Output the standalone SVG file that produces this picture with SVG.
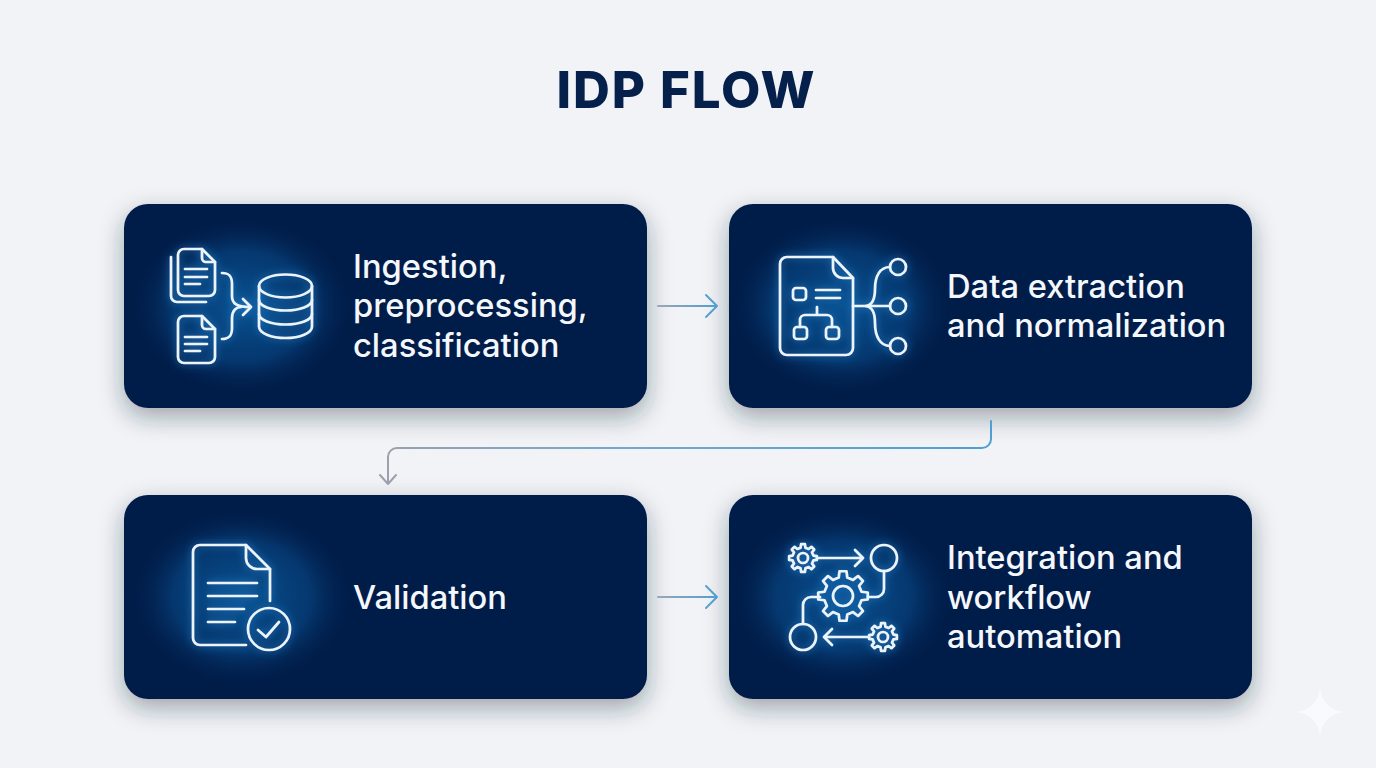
<svg xmlns="http://www.w3.org/2000/svg" width="1376" height="768" viewBox="0 0 1376 768">
<style>
.card{fill:#041f48;filter:url(#shadow)}
.ic{fill:none;stroke:#e9f4fd;stroke-width:2.7;stroke-linecap:round;stroke-linejoin:round;filter:url(#glow)}
.lbl{font-family:Inter,"Liberation Sans",sans-serif;font-weight:500;font-size:32.7px;font-optical-sizing:none;fill:#f4f7fb}
.title{font-family:Inter,"Liberation Sans",sans-serif;font-weight:800;font-size:51px;letter-spacing:1.9px;font-optical-sizing:none;fill:#05214b}
.conn{fill:none;stroke-width:2;stroke-linecap:round;stroke-linejoin:round}
</style>
<defs>
<filter id="shadow" x="-15%" y="-20%" width="130%" height="150%"><feDropShadow dx="0" dy="9" stdDeviation="12" flood-color="#1a2333" flood-opacity="0.38"/></filter>
<filter id="glow" x="-30%" y="-30%" width="160%" height="160%"><feGaussianBlur in="SourceGraphic" stdDeviation="4" result="b"/><feFlood flood-color="#2a8fe0" flood-opacity="0.8"/><feComposite in2="b" operator="in" result="c"/><feMerge><feMergeNode in="c"/><feMergeNode in="SourceGraphic"/></feMerge></filter>
<radialGradient id="halo"><stop offset="0" stop-color="#0a5596" stop-opacity="0.95"/><stop offset="0.6" stop-color="#084a88" stop-opacity="0.6"/><stop offset="1" stop-color="#041f48" stop-opacity="0"/></radialGradient>
<linearGradient id="ga" gradientUnits="userSpaceOnUse" x1="658" y1="0" x2="717" y2="0"><stop offset="0" stop-color="#9aa6b5"/><stop offset="1" stop-color="#4f9fd3"/></linearGradient>
<linearGradient id="gb" gradientUnits="userSpaceOnUse" x1="991" y1="0" x2="388" y2="0"><stop offset="0" stop-color="#4f9fd3"/><stop offset="0.55" stop-color="#6fa9cf"/><stop offset="1" stop-color="#9aa1ad"/></linearGradient>
<polygon id="gear" vector-effect="non-scaling-stroke" points="74.05,-17.1 99.03,-13.92 99.03,13.92 74.05,17.1 64.45,40.27 79.86,60.18 60.18,79.86 40.27,64.45 17.1,74.05 13.92,99.03 -13.92,99.03 -17.1,74.05 -40.27,64.45 -60.18,79.86 -79.86,60.18 -64.45,40.27 -74.05,17.1 -99.03,13.92 -99.03,-13.92 -74.05,-17.1 -64.45,-40.27 -79.86,-60.18 -60.18,-79.86 -40.27,-64.45 -17.1,-74.05 -13.92,-99.03 13.92,-99.03 17.1,-74.05 40.27,-64.45 60.18,-79.86 79.86,-60.18 64.45,-40.27"/>
</defs>
<rect width="1376" height="768" fill="#f1f3f7"/>
<text class="title" x="686.500" y="108" text-anchor="middle">IDP FLOW</text>

<g id="node-ingestion">
<rect class="card" x="124" y="204" width="523" height="204" rx="24"/>
<ellipse cx="242" cy="306" rx="115" ry="92" fill="url(#halo)"/>
<g class="ic">
<path d="M184 249H202L215 262V290a6 6 0 0 1-6 6H184a6 6 0 0 1-6-6V255a6 6 0 0 1 6-6Z"/>
<path d="M202 249V258a4 4 0 0 0 4 4H215"/>
<path d="M171 257V296a6 6 0 0 0 6 6H206"/>
<path d="M185 269H207M185 277H207M185 284H200"/>
<path d="M184 316H202L215 329V357a6 6 0 0 1-6 6H184a6 6 0 0 1-6-6V322a6 6 0 0 1 6-6Z"/>
<path d="M202 316V325a4 4 0 0 0 4 4H215"/>
<path d="M185 337H207M185 344H207M185 351H200"/>
<path d="M222 273C230 273 232 277 232 284V296C232 303 236 307 250 307"/>
<path d="M222 339C230 339 232 335 232 328V318C232 311 236 307 241 307"/>
<path d="M243 299L251 307L243 315"/>
<ellipse cx="285.500" cy="286" rx="26.500" ry="11.500"/>
<path d="M259 286V326.500C259 333 271 338 285.500 338S312 333 312 326.500V286"/>
<path d="M259 300C259 306 271 310.500 285.500 310.500S312 306 312 300"/>
<path d="M259 314C259 320 271 324.500 285.500 324.500S312 320 312 314"/>
</g>
<text class="lbl" x="353" y="278">Ingestion,</text>
<text class="lbl" x="353" y="317">preprocessing,</text>
<text class="lbl" x="353" y="357">classification</text>
</g>

<g id="node-extraction">
<rect class="card" x="729" y="204" width="523" height="204" rx="24"/>
<ellipse cx="842" cy="306" rx="115" ry="92" fill="url(#halo)"/>
<g class="ic">
<path d="M787 257H833L853 278V348a7 7 0 0 1-7 7H787a7 7 0 0 1-7-7V264a7 7 0 0 1 7-7Z"/>
<path d="M833 257V268a10 10 0 0 0 10 10H853"/>
<rect x="793" y="288" width="13" height="12" rx="3"/>
<path d="M816 290H840M816 298H840"/>
<path d="M817 307V315M800 327V320a5 5 0 0 1 5-5H827a5 5 0 0 1 5 5V327"/>
<rect x="794" y="327" width="13" height="12" rx="3"/>
<rect x="826" y="327" width="13" height="12" rx="3"/>
<path d="M853 306H890"/>
<path d="M866 306C873 305 875 298 875 289C875 276 880 267 890 267"/>
<path d="M866 306C873 307 875 314 875 323C875 336 880 346 890 346"/>
<circle cx="898" cy="267" r="8"/><circle cx="898" cy="306" r="8"/><circle cx="898" cy="346" r="8"/>
</g>
<text class="lbl" x="947" y="298">Data extraction</text>
<text class="lbl" x="947" y="337">and normalization</text>
</g>

<g id="node-validation">
<rect class="card" x="124" y="495" width="523" height="204" rx="24"/>
<ellipse cx="242" cy="597" rx="115" ry="92" fill="url(#halo)"/>
<g class="ic">
<path d="M270 601V569L246 545H200a7 7 0 0 0-7 7V638a7 7 0 0 0 7 7H246"/>
<path d="M246 545V558a11 11 0 0 0 11 11H270"/>
<path d="M208 583H257M208 596H257M208 609H244M208 622H235"/>
<circle cx="269" cy="629" r="21"/>
<path d="M258 630L266 637L279 622"/>
</g>
<text class="lbl" x="353" y="609">Validation</text>
</g>

<g id="node-integration">
<rect class="card" x="729" y="495" width="523" height="204" rx="24"/>
<ellipse cx="843" cy="597" rx="115" ry="92" fill="url(#halo)"/>
<g class="ic">
<use href="#gear" transform="translate(803 558) scale(.14)"/>
<circle cx="803" cy="558" r="5"/>
<path d="M817 558H863M855 550L863 558L855 566"/>
<circle cx="884" cy="558" r="13"/>
<path d="M884 571V589a8 8 0 0 1-8 8H868"/>
<use href="#gear" transform="translate(843 596) scale(.25)"/>
<circle cx="843" cy="596" r="10"/>
<path d="M820 597H811a8 8 0 0 0-8 8V624"/>
<circle cx="803" cy="637" r="13"/>
<path d="M869 637H824M832 629L824 637L832 645"/>
<use href="#gear" transform="translate(883 637) scale(.14)"/>
<circle cx="883" cy="637" r="5"/>
</g>
<text class="lbl" x="947" y="569">Integration and</text>
<text class="lbl" x="947" y="609">workflow</text>
<text class="lbl" x="947" y="648">automation</text>
</g>

<g id="connectors">
<path class="conn" stroke="url(#ga)" d="M658 306H717M706 295L717 306L706 317"/>
<path class="conn" stroke="url(#ga)" d="M658 597H717M706 586L717 597L706 608"/>
<path class="conn" stroke="url(#gb)" d="M991 421V439a9 9 0 0 1-9 9H397a9 9 0 0 0-9 9V484M380 475L388 484L396 475"/>
</g>
<path d="M1320 688C1322 702 1330 710 1344 712C1330 714 1322 722 1320 736C1318 722 1310 714 1296 712C1310 710 1318 702 1320 688Z" fill="#f9fafd"/>
</svg>
